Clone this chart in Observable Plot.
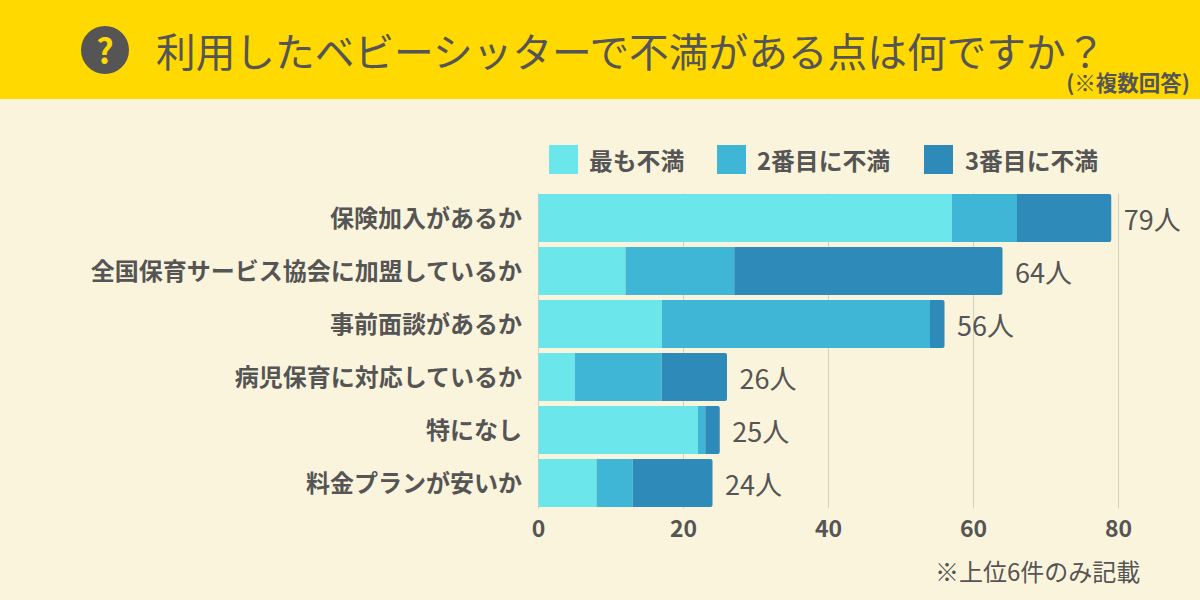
<!DOCTYPE html>
<html lang="ja"><head><meta charset="utf-8">
<script src="https://cdn.jsdelivr.net/npm/d3@7"></script>
<script src="https://cdn.jsdelivr.net/npm/@observablehq/plot@0.6"></script>
<style>
html,body{margin:0;padding:0;background:#FBF4DC;}
body{width:1200px;height:600px;position:relative;overflow:hidden;font-family:"Noto Sans CJK JP",sans-serif;color:#555;}
#hdr{position:absolute;left:0;top:0;width:1200px;height:99px;background:#FFD900;}
#icon{position:absolute;left:81px;top:25.5px;width:48px;height:48px;border-radius:50%;background:#555;color:#FFD900;font-size:34px;font-weight:700;line-height:48px;text-align:center;}
#title{position:absolute;left:156px;top:32px;font-size:39.7px;line-height:36px;white-space:nowrap;}
#note{position:absolute;right:10px;top:69.5px;font-size:21.5px;line-height:24px;font-weight:700;white-space:nowrap;}
.sw{position:absolute;top:145px;width:29px;height:29px;}
.lg{position:absolute;top:143.5px;font-size:23.8px;font-weight:700;line-height:31px;white-space:nowrap;}
#cap{position:absolute;left:935px;top:555px;font-size:24px;line-height:32px;white-space:nowrap;}
#chart{position:absolute;left:0;top:100px;}
</style></head><body>
<div id="hdr"><div id="icon">?</div><div id="title"></div><div id="note"></div></div>
<div id="legend"></div>
<div id="cap"></div>
<div id="chart"></div>
<script>
const titleText = "利用したベビーシッターで不満がある点は何ですか？";
const noteText = "(※複数回答)";
const captionText = "※上位6件のみ記載";
const categories = ["保険加入があるか","全国保育サービス協会に加盟しているか","事前面談があるか","病児保育に対応しているか","特になし","料金プランが安いか"];
const seriesNames = ["最も不満","2番目に不満","3番目に不満"];
const first = [57,12,17,5,22,8];
const second = [9,15,37,12,1,5];
const third = [13,37,2,9,2,11];
const colors = ["#6BE7EB","#40B6D6","#2D8AB9"];
const xTicks = [0,20,40,60,80];
const swatchX = [549,717,924];
const labelX = [589,757,965];

document.getElementById("title").textContent = titleText;
document.getElementById("note").textContent = noteText;
document.getElementById("cap").textContent = captionText;
const lg = document.getElementById("legend");
seriesNames.forEach((n,i)=>{
  const s=document.createElement("div");s.className="sw";s.style.left=swatchX[i]+"px";s.style.background=colors[i];lg.appendChild(s);
  const t=document.createElement("div");t.className="lg";t.style.left=labelX[i]+"px";t.textContent=n;lg.appendChild(t);
});

const rows = categories.flatMap((c,i)=>{
  const a=first[i],b=second[i],d=third[i];
  return [
    {cat:c,series:seriesNames[0],x1:0,x2:a},
    {cat:c,series:seriesNames[1],x1:a,x2:a+b},
    {cat:c,series:seriesNames[2],x1:a+b,x2:a+b+d}
  ];
});
const totals = categories.map((c,i)=>({cat:c,total:first[i]+second[i]+third[i]}));

const plot = Plot.plot({
  width:1200,height:500,
  marginLeft:538,marginRight:82,marginTop:93.3,marginBottom:91.6,
  style:{background:"transparent",fontFamily:'"Noto Sans CJK JP",sans-serif',color:"#555",overflow:"visible"},
  x:{domain:[0,80],ticks:xTicks,label:null},
  y:{domain:categories,label:null,paddingInner:0.1,paddingOuter:0},
  color:{domain:seriesNames,range:colors},
  marks:[
    Plot.ruleX(xTicks,{stroke:"#D5D0BA",strokeWidth:1}),
    Plot.barX(rows.filter(d=>d.series!==seriesNames[2]),{x1:"x1",x2:"x2",y:"cat",fill:"series",dx:0.5}),
    Plot.barX(rows.filter(d=>d.series===seriesNames[2]),{x1:"x1",x2:"x2",y:"cat",fill:"series",rx2:2,dx:0.5}),
    Plot.text(totals,{x:"total",y:"cat",text:d=>d.total+"人",dx:12.5,dy:3,textAnchor:"start",fontSize:27,fill:"#555"}),
    Plot.axisX({ticks:xTicks,tickSize:0,tickPadding:12,fontSize:23,fontWeight:600,fill:"#555",label:null,anchor:"bottom"}),
    Plot.axisY({tickSize:0,tickPadding:16.5,dy:1,fontSize:24,fontWeight:700,fill:"#555",label:null,anchor:"left"})
  ]
});
document.getElementById("chart").appendChild(plot);
</script></body></html>
